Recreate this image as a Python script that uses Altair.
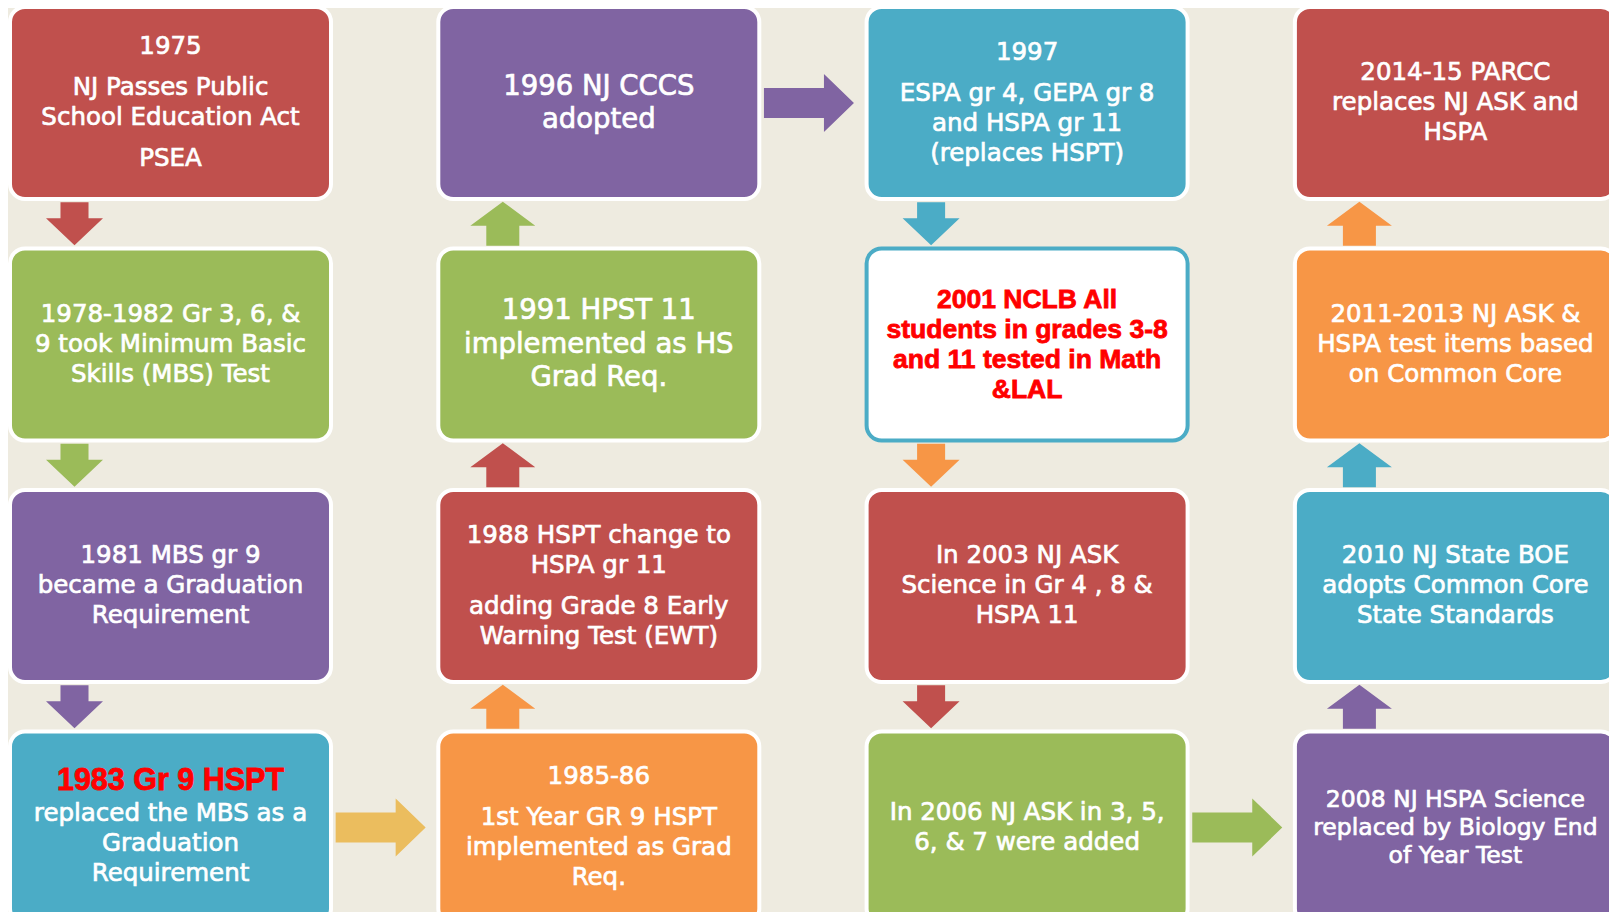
import altair as alt
import pandas as pd

# ---------------- data ----------------
box_cols = [0, 0, 0, 0, 1, 1, 1, 1, 2, 2, 2, 2, 3, 3, 3, 3]
box_rows = [0, 1, 2, 3, 0, 1, 2, 3, 0, 1, 2, 3, 0, 1, 2, 3]
box_fills = ["#C0504D", "#9BBB59", "#8064A2", "#4BACC6",
             "#8064A2", "#9BBB59", "#C0504D", "#F79646",
             "#4BACC6", "#FFFFFF", "#C0504D", "#9BBB59",
             "#C0504D", "#F79646", "#4BACC6", "#8064A2"]
box_texts = [
    [["1975"], ["NJ Passes Public", "School Education Act"], ["PSEA"]],
    [["1978-1982 Gr 3, 6, &", "9 took Minimum Basic", "Skills (MBS) Test"]],
    [["1981 MBS gr 9", "became a Graduation", "Requirement"]],
    [["1983 Gr 9 HSPT", "replaced the MBS as a", "Graduation", "Requirement"]],
    [["1996 NJ CCCS", "adopted"]],
    [["1991 HPST 11", "implemented as HS", "Grad Req."]],
    [["1988 HSPT change to", "HSPA gr 11"], ["adding Grade 8 Early", "Warning Test (EWT)"]],
    [["1985-86"], ["1st Year GR 9 HSPT", "implemented as Grad", "Req."]],
    [["1997"], ["ESPA gr 4, GEPA gr 8", "and HSPA gr 11", "(replaces HSPT)"]],
    [["2001 NCLB All", "students in grades 3-8", "and 11 tested in Math", "&LAL"]],
    [["In 2003 NJ ASK", "Science in Gr 4 , 8 &", "HSPA 11"]],
    [["In 2006 NJ ASK in 3, 5,", "6, & 7 were added"]],
    [["2014-15 PARCC", "replaces NJ ASK and", "HSPA"]],
    [["2011-2013 NJ ASK &", "HSPA test items based", "on Common Core"]],
    [["2010 NJ State BOE", "adopts Common Core", "State Standards"]],
    [["2008 NJ HSPA Science", "replaced by Biology End", "of Year Test"]],
]

v_arrow_cols = [0, 0, 0, 1, 1, 1, 2, 2, 2, 3, 3, 3]
v_arrow_gaps = [0, 1, 2, 0, 1, 2, 0, 1, 2, 0, 1, 2]
v_arrow_dirs = ["down", "down", "down", "up", "up", "up",
                "down", "down", "down", "up", "up", "up"]
v_arrow_colors = ["#C0504D", "#9BBB59", "#8064A2",
                  "#9BBB59", "#C0504D", "#F79646",
                  "#4BACC6", "#F79646", "#C0504D",
                  "#F79646", "#4BACC6", "#8064A2"]
h_arrow_rows = [3, 0, 3]
h_arrow_from_cols = [0, 1, 2]
h_arrow_colors = ["#EBBD5E", "#8064A2", "#9BBB59"]

# ---------------- layout / style ----------------
BG = "#EEEBE0"
W, H = 1601, 904
PX_COL, PX_ROW = 428.3, 241.5
COL0, ROW0 = 170.5, 103.0
XMIN = (8 - COL0) / PX_COL
XMAX = XMIN + W / PX_COL
YMIN = (8 - ROW0) / PX_ROW
YMAX = YMIN + H / PX_ROW
HALF_W = 160.5 / PX_COL
HALF_H = 96.0 / PX_ROW
ARROW_DX = -96.0 / PX_COL
H_ARROW_DX = 0.5 - 4.0 / PX_COL
FONT = "DejaVu Sans"
BOLD_FONT = "Liberation Sans"
font_style = {(1, 0): (27.5, 33), (1, 1): (27.5, 33.5), (3, 3): (23.5, 28)}
DEFAULT_STYLE = (24.5, 30)
PGAP = 11
RED = "#FF0000"

paths = {
    "down": "M-0.467,-0.717L0.467,-0.717L0.467,-0.183L0.95,-0.183L0,0.717L-0.95,-0.183L-0.467,-0.183Z",
    "up": "M-0.55,0.733L0.55,0.733L0.55,0.067L1.083,0.067L0,-0.733L-1.083,0.067L-0.55,0.067Z",
    "right": "M-1.5,-0.5L0.5,-0.5L0.5,-0.967L1.5,0L0.5,0.967L0.5,0.5L-1.5,0.5Z",
}

xs = alt.Scale(domain=[XMIN, XMAX], nice=False, zero=False)
ys = alt.Scale(domain=[YMIN, YMAX], nice=False, zero=False, reverse=True)

# boxes
boxes = pd.DataFrame({"col": box_cols, "row": box_rows, "fill": box_fills})
boxes["stroke"] = ["#4BACC6" if f == "#FFFFFF" else "#FFFFFF" for f in box_fills]

box_layer = alt.Chart(boxes).transform_calculate(
    x1=f"datum.col - {HALF_W}", x2=f"datum.col + {HALF_W}",
    y1=f"datum.row - {HALF_H}", y2=f"datum.row + {HALF_H}",
).mark_rect(cornerRadius=15, strokeWidth=4).encode(
    x=alt.X("x1:Q", scale=xs, axis=None),
    x2="x2:Q",
    y=alt.Y("y1:Q", scale=ys, axis=None),
    y2="y2:Q",
    fill=alt.Fill("fill:N", scale=None),
    stroke=alt.Stroke("stroke:N", scale=None),
)

# arrows
varr = pd.DataFrame({"col": v_arrow_cols, "gap": v_arrow_gaps,
                     "dir": v_arrow_dirs, "color": v_arrow_colors})
varr["path"] = [paths[d] for d in v_arrow_dirs]
v_layer = alt.Chart(varr).transform_calculate(
    ax=f"datum.col + {ARROW_DX}", ay="datum.gap + 0.5",
).mark_point(filled=True, opacity=1, size=3600).encode(
    x=alt.X("ax:Q", scale=xs, axis=None),
    y=alt.Y("ay:Q", scale=ys, axis=None),
    shape=alt.Shape("path:N", scale=None),
    color=alt.Color("color:N", scale=None),
)

harr = pd.DataFrame({"row": h_arrow_rows, "col": h_arrow_from_cols, "color": h_arrow_colors})
harr["path"] = paths["right"]
h_layer = alt.Chart(harr).transform_calculate(
    ax=f"datum.col + {H_ARROW_DX}", ay="datum.row",
).mark_point(filled=True, opacity=1, size=3600).encode(
    x=alt.X("ax:Q", scale=xs, axis=None),
    y=alt.Y("ay:Q", scale=ys, axis=None),
    shape=alt.Shape("path:N", scale=None),
    color=alt.Color("color:N", scale=None),
)

# text lines
recs = []
for c, r, fill, paras in zip(box_cols, box_rows, box_fills, box_texts):
    fs, lh = font_style.get((c, r), DEFAULT_STYLE)
    highlight_first = (c, r) == (0, 3)
    seq = []
    y = 0.0
    k = 0
    for pi, para in enumerate(paras):
        if pi > 0:
            y += PGAP
        for t in para:
            seq.append([t, y])
            y += lh + (3 if (highlight_first and k == 0) else 0)
            k += 1
    total = seq[-1][1]
    for k, (t, yy) in enumerate(seq):
        rec = {"col": c, "row": r, "text": t, "dy": yy - total / 2,
               "fs": fs, "tc": "#FFFFFF", "bold": False}
        if fill == "#FFFFFF":
            rec.update(fs=26.5, tc=RED, bold=True)
        if highlight_first and k == 0:
            rec.update(fs=30.5, tc=RED, bold=True)
        recs.append(rec)
lines = pd.DataFrame(recs)


def text_layer(df, font, weight, **kw):
    return alt.Chart(df).transform_calculate(
        ty=f"datum.row + datum.dy / {PX_ROW}",
    ).mark_text(font=font, fontWeight=weight, align="center", baseline="middle", **kw).encode(
        x=alt.X("col:Q", scale=xs, axis=None),
        y=alt.Y("ty:Q", scale=ys, axis=None),
        text="text:N",
        color=alt.Color("tc:N", scale=None),
        size=alt.Size("fs:Q", scale=None),
    )


t_norm = text_layer(lines[~lines["bold"]], FONT, "normal", stroke="#FFFFFF", strokeWidth=0.7)
t_bold = text_layer(lines[lines["bold"]], BOLD_FONT, "bold", stroke=RED, strokeWidth=0.8)

chart = alt.layer(box_layer, v_layer, h_layer, t_norm, t_bold).properties(
    width=W, height=H, padding=0, autosize=alt.AutoSizeParams(type="none"),
    background=BG,
).configure_view(stroke=None)

chart.save("out.html", embed_options={"renderer": "svg", "actions": False})
